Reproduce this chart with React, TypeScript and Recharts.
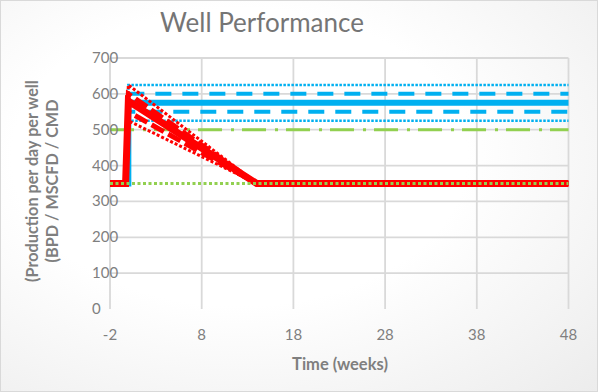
import React from 'react';
import { LineChart, Line, XAxis, YAxis, CartesianGrid } from 'recharts';

// ---- data ----
const rampWeeks = [-2, -0.3, 0, 14, 48];
const stepWeeks = [-2, 0, 0, 48];
const flatWeeks = [-2, 48];

const redDottedHigh = [350, 350, 625, 350, 350];
const redDashedHigh = [350, 350, 600, 350, 350];
const redSolid = [350, 350, 580, 350, 350];
const redDashedLow = [350, 350, 550, 350, 350];
const redDottedLow = [350, 350, 525, 350, 350];

const blueDottedHigh = [350, 350, 625, 625];
const blueDashedHigh = [350, 350, 600, 600];
const blueSolid = [350, 350, 575, 575];
const blueDashedLow = [350, 350, 550, 550];
const blueDottedLow = [350, 350, 525, 525];

const greenDashDot = [500, 500];
const greenDotted = [350, 350];

const xTicks = [-2, 8, 18, 28, 38, 48];
const yTicks = [0, 100, 200, 300, 400, 500, 600, 700];
const gridY = [100, 200, 300, 400, 500, 600, 700];

const title = 'Well Performance';
const xTitle = 'Time (weeks)';
const yTitle1 = '(Production per day per well';
const yTitle2 = '(BPD / MSCFD / CMD';

const toSeries = (weeks: number[], vals: number[]) =>
  weeks.map((w, i) => ({ week: w, value: vals[i] }));

const BLUE = '#00b0f0';
const RED = '#ff0000';
const GREEN = '#92d050';
const TEXT = '#7f7f7f';
const FONT = 'Lato, "Open Sans", sans-serif';

const YTick = (props: any) => {
  const { y, payload } = props;
  return (
    <text x={92} y={y} dy={5} textAnchor="start" fill={TEXT} fontSize={15} fontFamily={FONT}>
      {payload.value}
    </text>
  );
};

const XTick = (props: any) => {
  const { x, y, payload } = props;
  return (
    <text x={x} y={y} dy={23} textAnchor="middle" fill={TEXT} fontSize={15} fontFamily={FONT}>
      {payload.value}
    </text>
  );
};

export default function App() {
  return (
    <div
      style={{
        position: 'absolute',
        left: 0,
        top: 0,
        width: 598,
        height: 392,
        boxSizing: 'border-box',
        border: '1px solid #d9d9d9',
        background: 'radial-gradient(ellipse at 40% 40%, #ffffff 45%, #ececec 100%)',
        fontFamily: FONT,
      }}
    >
      <div
        style={{
          position: 'absolute',
          left: 0,
          width: 522,
          top: 4,
          textAlign: 'center',
          fontSize: 26,
          color: '#757575',
          lineHeight: '34px',
        }}
      >
        {title}
      </div>
      <div
        style={{
          position: 'absolute',
          left: 239,
          width: 200,
          top: 351,
          textAlign: 'center',
          fontSize: 16.5,
          fontWeight: 700,
          color: TEXT,
          lineHeight: '24px',
        }}
      >
        {xTitle}
      </div>
      <div
        style={{
          position: 'absolute',
          left: 43 - 150,
          top: 180 - 22,
          width: 300,
          height: 44,
          transform: 'rotate(-90deg)',
          textAlign: 'center',
          fontSize: 16.2,
          fontWeight: 700,
          color: TEXT,
          lineHeight: '20px',
        }}
      >
        <div>{yTitle1}</div>
        <div>{yTitle2}</div>
      </div>
      <div style={{ position: 'absolute', left: -1, top: -1 }}>
        <LineChart
          width={598}
          height={392}
          margin={{ top: 58, right: 29.5, bottom: 53, left: 20 }}
        >
          <CartesianGrid stroke="#d9d9d9" strokeWidth={1.8} horizontalValues={gridY} verticalValues={xTicks} />
          <XAxis
            type="number"
            dataKey="week"
            domain={[-2, 48]}
            ticks={xTicks}
            axisLine={false}
            tickLine={false}
            height={30}
            tick={<XTick />}
            allowDuplicatedCategory
          />
          <YAxis
            type="number"
            dataKey="value"
            domain={[0, 700]}
            ticks={yTicks}
            axisLine={false}
            tickLine={false}
            width={90}
            tick={<YTick />}
          />
          <Line data={toSeries(stepWeeks, blueDottedHigh)} dataKey="value" stroke={BLUE} strokeWidth={2.5} strokeDasharray="2.5 1.5" dot={false} isAnimationActive={false} />
          <Line data={toSeries(stepWeeks, blueDashedHigh)} dataKey="value" stroke={BLUE} strokeWidth={4} strokeDasharray="16 11" dot={false} isAnimationActive={false} />
          <Line data={toSeries(stepWeeks, blueSolid)} dataKey="value" stroke={BLUE} strokeWidth={6} dot={false} isAnimationActive={false} />
          <Line data={toSeries(stepWeeks, blueDashedLow)} dataKey="value" stroke={BLUE} strokeWidth={4} strokeDasharray="16 11" dot={false} isAnimationActive={false} />
          <Line data={toSeries(stepWeeks, blueDottedLow)} dataKey="value" stroke={BLUE} strokeWidth={2.5} strokeDasharray="2.5 1.5" dot={false} isAnimationActive={false} />
          <Line data={toSeries(flatWeeks, greenDashDot)} dataKey="value" stroke={GREEN} strokeWidth={3} strokeDasharray="24 9 3 8" dot={false} isAnimationActive={false} />
          <Line data={toSeries(rampWeeks, redDottedHigh)} dataKey="value" stroke={RED} strokeWidth={3} strokeDasharray="3 2" dot={false} isAnimationActive={false} />
          <Line data={toSeries(rampWeeks, redDashedHigh)} dataKey="value" stroke={RED} strokeWidth={5} strokeDasharray="14 5" dot={false} isAnimationActive={false} />
          <Line data={toSeries(rampWeeks, redSolid)} dataKey="value" stroke={RED} strokeWidth={7} dot={false} isAnimationActive={false} />
          <Line data={toSeries(rampWeeks, redDashedLow)} dataKey="value" stroke={RED} strokeWidth={5} strokeDasharray="14 5" dot={false} isAnimationActive={false} />
          <Line data={toSeries(rampWeeks, redDottedLow)} dataKey="value" stroke={RED} strokeWidth={3} strokeDasharray="3 2" dot={false} isAnimationActive={false} />
          <Line data={toSeries(flatWeeks, greenDotted)} dataKey="value" stroke={GREEN} strokeWidth={3} strokeDasharray="3 2.5" dot={false} isAnimationActive={false} />
        </LineChart>
      </div>
    </div>
  );
}
